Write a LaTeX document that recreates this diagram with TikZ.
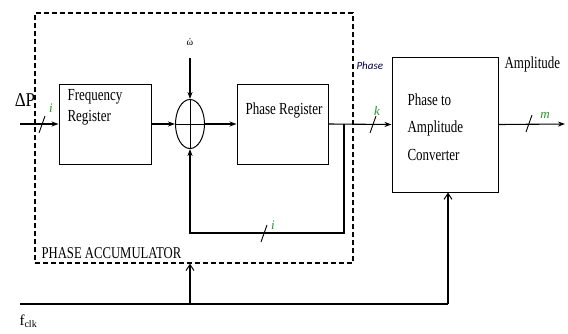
\documentclass[tikz,border=0pt]{standalone}
\usepackage{fontspec}
\setmainfont{Liberation Serif}
\newfontfamily\calib{Carlito}
\usetikzlibrary{arrows.meta,shapes.geometric}
\definecolor{lblgreen}{RGB}{40,150,40}
\begin{document}
\begin{tikzpicture}[x=1pt,y=-1pt,
  line width=1.1pt,
  blk/.style={draw, rectangle, line width=1pt, inner sep=0pt},
  txt/.style={font=\fontsize{13}{16}\selectfont, inner sep=0pt, transform shape, yscale=1.3},
  arr/.style={-{Stealth[length=7pt,width=5pt]}},
  oarr/.style={-{Straight Barb[length=6pt,width=8pt,line width=1pt]}},
  glbl/.style={font=\itshape\fontsize{13}{15}\selectfont, text=lblgreen, inner sep=0pt},
  slash/.style={line width=0.9pt},
  dbox/.style={draw, dash pattern=on 5pt off 3pt, line width=1.3pt, rectangle, inner sep=0pt}
]
\useasboundingbox (0,0) rectangle (568,333);
% phase accumulator dashed box
\node[dbox, minimum width=318pt, minimum height=250pt] (acc) at (194,138) {};
% blocks
\node[blk, minimum width=92pt, minimum height=80pt] (freq) at (105,124) {};
\node[txt, anchor=north west, align=left] (freqt) at (67,89) {Frequency\\Register};
\node[draw, ellipse, line width=1pt, minimum width=29pt, minimum height=49pt, inner sep=0pt] (sum) at (190,124) {};
\node[blk, minimum width=91pt, minimum height=80pt] (phreg) at (282.5,124) {};
\node[txt] (phregt) at (284,110) {Phase Register};
\node[blk, minimum width=106pt, minimum height=135pt] (conv) at (445,124.5) {};
\node[txt, anchor=north west, align=left, font=\fontsize{13}{21}\selectfont] (convt) at (407,93) {Phase to\\Amplitude\\Converter};
% cross in the adder
\draw[line width=1pt] (sum.north) -- (sum.south) (sum.west) -- (sum.east);
% coordinates
\coordinate (inp) at (20,124);
\coordinate (top) at (190,58);
\coordinate (fb) at (344,124);
\coordinate (fbl) at (344,233);
\coordinate (outp) at (565,124);
\coordinate (clk0) at (20,304);
\coordinate (clkA) at (190,304);
\coordinate (clkB) at (448,304);
% connectors
\draw[arr] (inp) -- (freq.west);
\draw[arr] (freq.east) -- (sum.west);
\draw[arr] (sum.east) -- (phreg.west);
\draw[arr] (phreg.east) -- (conv.west);
\draw[arr] (top) -- (sum.north);
\draw[arr] (fb) -- (fbl) -| (sum.south);
\draw[arr] (conv.east) -- (outp);
\draw (clk0) -- (clkB);
\draw[oarr] (clkB) -- (conv.south -| clkB);
\draw[oarr] (clkA) -- (clkA |- acc.south);
% bus slashes
\draw[slash] (39,133) -- (45,116);
\draw[slash] (261,242) -- (267,225);
\draw[slash] (370,133) -- (376,116);
\draw[slash] (526,132) -- (532,115);
% labels
\node[font=\fontsize{17}{19}\selectfont, inner sep=0pt, transform shape, yscale=1.15] (dp) at (25,100) {ΔP};
\node[glbl] (li) at (51,108) {i};
\node[glbl] (li2) at (273,225) {i};
\node[glbl] (lk) at (377,111) {k};
\node[glbl] (lm) at (545,115) {m};
\node[font=\fontsize{10}{11}\selectfont, inner sep=0pt] (w) at (190,42) {ώ};
\node[font=\calib\itshape\fontsize{11}{13}\selectfont, text=black!70!blue, inner sep=0pt, anchor=west] (phl) at (356,66) {Phase};
\node[txt, anchor=west] (ampl) at (504,64) {Amplitude};
\node[txt, anchor=west, font=\fontsize{12.7}{15}\selectfont] (pacc) at (41,253) {PHASE ACCUMULATOR};
\node[font=\fontsize{15}{16}\selectfont, inner sep=0pt, anchor=west] (fclk) at (19,321) {f\textsubscript{\fontsize{10}{10}\selectfont clk}};
\end{tikzpicture}
\end{document}
